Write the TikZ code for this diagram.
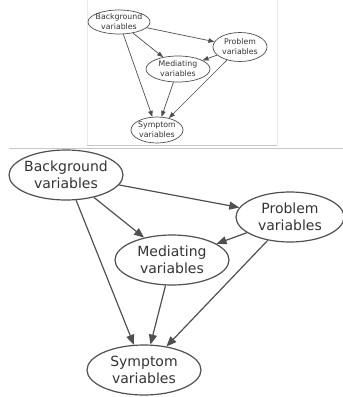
\documentclass[tikz,border=0pt]{standalone}
\usepackage{fontspec}
\setmainfont{DejaVu Sans}
\usetikzlibrary{shapes.geometric,arrows.meta}
\definecolor{ln}{HTML}{4F4F4F}
\definecolor{tx}{HTML}{333333}
\tikzset{
  bigell/.style={ellipse, draw=ln, line width=1.2pt, inner sep=0pt, minimum width=114pt, minimum height=50pt},
  smallell/.style={ellipse, draw=ln, line width=0.7pt, inner sep=0pt, minimum width=62pt, minimum height=24pt},
  bigtxt/.style={text=tx, align=center, font=\fontsize{14}{17}\selectfont, inner sep=0pt},
  smalltxt/.style={text=tx, align=center, font=\fontsize{7.8}{10}\selectfont, inner sep=0pt},
  bigarr/.style={draw=ln, line width=1.2pt, -{Triangle[length=10pt,width=8pt]}},
  smallarr/.style={draw=ln, line width=0.7pt, -{Triangle[length=6pt,width=4.5pt]}},
}
\begin{document}
\begin{tikzpicture}[x=1pt,y=-1pt]
\useasboundingbox (0,0) rectangle (343,397);
\clip (0,0) rectangle (343,397);
% frame of the small copy
\draw[color=black!8, line width=0.6pt] (87,-2) -- (87,145) -- (277,145) -- (277,-2);
\draw[color=black!22, line width=0.8pt] (87,145) -- (277,145);
\draw[color=black!22, line width=0.8pt] (9,148) -- (343,148);
% small copy
\node[smallell] (sB) at (119,22) {};
\node[smallell, minimum width=54pt, minimum height=29pt] (sP) at (240,47) {};
\node[smallell, minimum width=64pt, minimum height=26pt] (sM) at (178,69) {};
\node[smallell, minimum width=52pt, minimum height=26pt] (sS) at (157,130) {};
\node[smalltxt] (sBt) at (sB) {Background\\variables};
\node[smalltxt] (sPt) at (sP) {Problem\\variables};
\node[smalltxt] (sMt) at (sM) {Mediating\\variables};
\node[smalltxt] (sSt) at (sS) {Symptom\\variables};
\draw[smallarr] (sB) -- (sP);
\draw[smallarr] (sB) -- (sM);
\draw[smallarr] (sB) -- (sS);
\draw[smallarr] (sP) -- (sM);
\draw[smallarr] (sP) -- (sS);
\draw[smallarr] (sM) -- (sS);
% large copy
\node[bigell] (B) at (66,175) {};
\node[bigell, minimum width=108pt] (P) at (290,217) {};
\node[bigell] (M) at (172,260) {};
\node[bigell] (S) at (144,370) {};
\node[bigtxt] (Bt) at (B) {Background\\variables};
\node[bigtxt] (Pt) at (P) {Problem\\variables};
\node[bigtxt] (Mt) at (M) {Mediating\\variables};
\node[bigtxt] (St) at (S) {Symptom\\variables};
\draw[bigarr] (B) -- (P);
\draw[bigarr] (B) -- (M);
\draw[bigarr] (B) -- (S);
\draw[bigarr] (P) -- (M);
\draw[bigarr] (P) -- (S);
\draw[bigarr] (M) -- (S);
\end{tikzpicture}
\end{document}
